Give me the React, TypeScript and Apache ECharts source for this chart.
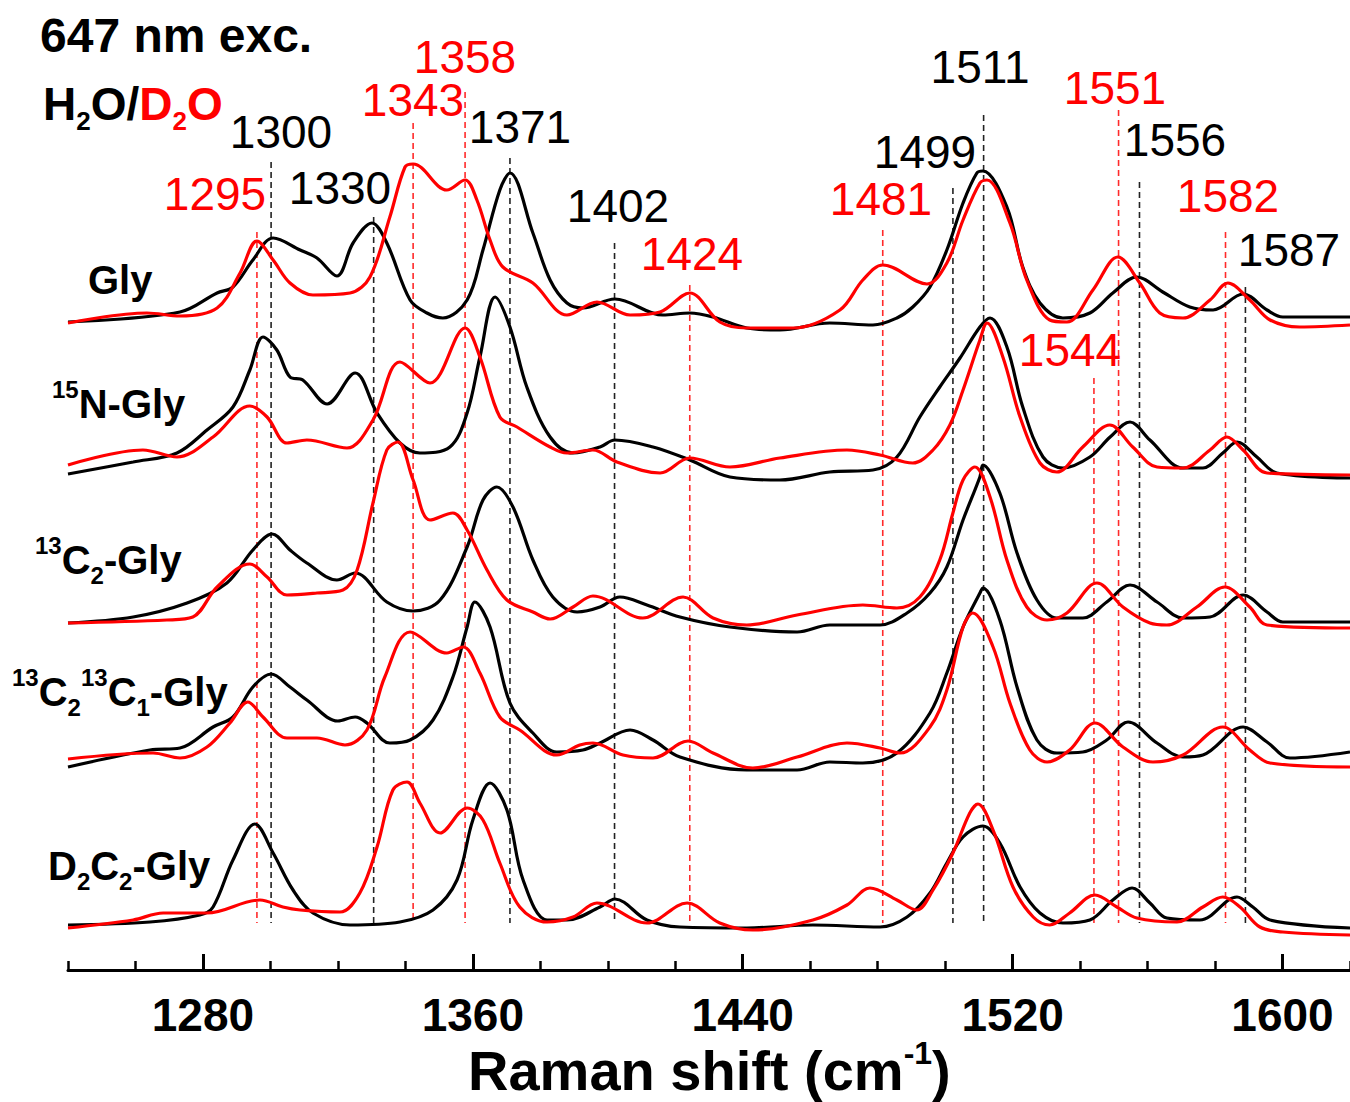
import React, { useEffect, useRef } from "react";
import * as echarts from "echarts";

// ---------- axis ----------
const X_MIN = 1240;
const X_MAX = 1620;
const MAJOR_TICKS = [1280, 1360, 1440, 1520, 1600];
const MINOR_TICK_STEP = 20;
const Y_MIN = 0;
const Y_MAX = 970;

// ---------- spectra: [Raman shift (cm-1), stacked intensity (a.u.)] ----------
const GLY_H2O: [number, number][] = [
  [1240, 648], [1273.2, 658], [1284.2, 677], [1288.9, 683], [1294.8, 710], [1300.8, 732], [1308.8, 720],
  [1313.8, 712], [1319.7, 694], [1324.5, 727], [1330.1, 747], [1334.5, 727], [1341.4, 670], [1346.4, 657],
  [1351.1, 652], [1358.3, 670], [1363, 720], [1368, 780], [1371, 797], [1377.8, 737], [1382.9, 690],
  [1387.9, 667], [1392.6, 662], [1402.1, 671], [1416.3, 655], [1424.3, 657], [1431.2, 653], [1441.2, 642],
  [1451, 640], [1465.8, 647], [1478.6, 645], [1485.7, 652], [1490.4, 663], [1495.5, 683], [1500.5, 720],
  [1505.3, 767], [1509.4, 797], [1511.2, 799], [1518.3, 763], [1523, 703], [1528.1, 667], [1534.9, 652],
  [1542.9, 657], [1549.7, 677], [1556.8, 693], [1564.5, 678], [1572.5, 663], [1579.4, 660], [1588.3, 676],
  [1595.4, 660], [1600.1, 653], [1620, 653],
];
const GLY_D2O: [number, number][] = [
  [1240, 647], [1263.4, 657], [1273.2, 654], [1284.2, 662], [1291, 697], [1296, 729], [1300.8, 710],
  [1305.8, 687], [1312.6, 675], [1323.6, 677], [1329.5, 693], [1335.4, 753], [1339.9, 803], [1342.3, 806],
  [1352.3, 780], [1357.7, 790], [1361.2, 770], [1365.1, 730], [1368.9, 703], [1377.8, 687], [1387.9, 655],
  [1396.8, 668], [1406.6, 655], [1415.5, 658], [1424.3, 677], [1433.2, 648], [1441.2, 642], [1454.9, 642],
  [1468.8, 660], [1475.6, 690], [1481.5, 705], [1494.6, 686], [1500.5, 707], [1505.3, 750], [1510.3, 787],
  [1512.4, 790], [1519.2, 747], [1524.2, 690], [1531, 650], [1536.1, 648], [1543.8, 680], [1551.2, 713],
  [1557.7, 687], [1563.6, 657], [1570.5, 652], [1578.5, 670], [1583.8, 687], [1590.3, 670], [1596.3, 650],
  [1605.1, 643], [1620, 645],
];
const N15_H2O: [number, number][] = [
  [1240, 496], [1259.3, 508], [1272.3, 517], [1281.2, 540], [1288.9, 563], [1293.9, 600], [1297.8, 633],
  [1301.9, 620], [1305.8, 593], [1309.6, 590], [1316.8, 566], [1325.1, 597], [1331.6, 557], [1338.4, 527],
  [1344.3, 517], [1353.2, 523], [1358.3, 557], [1362.1, 613], [1366.6, 673], [1371, 643], [1376, 583],
  [1382.9, 533], [1389.7, 517], [1397.7, 523], [1402.1, 530], [1413.4, 523], [1424.3, 510], [1436.2, 493],
  [1451, 490], [1465.8, 498], [1478.6, 500], [1485.7, 513], [1492.5, 553], [1498.4, 583], [1504.4, 612],
  [1510.3, 643], [1513.3, 652], [1518.3, 623], [1523, 563], [1529, 513], [1534.9, 502], [1542.9, 513],
  [1548.9, 533], [1554.8, 548], [1560.7, 530], [1570.5, 502], [1576.4, 502], [1582.3, 517], [1586.5, 528],
  [1592.4, 513], [1598.3, 497], [1620, 492],
];
const N15_D2O: [number, number][] = [
  [1240, 505], [1262.2, 520], [1272.3, 513], [1283, 533], [1293.9, 564], [1299, 553], [1304.9, 527],
  [1310.8, 530], [1322.7, 522], [1330.4, 550], [1338.4, 608], [1347.3, 587], [1357.7, 642], [1362.1, 613],
  [1368, 553], [1373.1, 543], [1382.9, 523], [1387.9, 517], [1395.6, 520], [1402.7, 508], [1415.5, 497],
  [1424.3, 512], [1436.2, 503], [1451, 512], [1470.9, 520], [1480.7, 515], [1490.4, 507], [1496.4, 520],
  [1501.4, 545], [1505.3, 580], [1510.3, 630], [1512.4, 647], [1517.1, 613], [1522.2, 553], [1528.1, 507],
  [1533.1, 498], [1540.8, 523], [1548.8, 545], [1555.6, 523], [1562.8, 503], [1570.5, 502], [1578.5, 520],
  [1583.5, 533], [1588.3, 520], [1595.4, 497], [1620, 495],
];
const C13_H2O: [number, number][] = [
  [1240, 347], [1259.3, 353], [1275.3, 367], [1287.1, 387], [1294.8, 420], [1300.5, 436], [1305.8, 420],
  [1310.8, 407], [1319.7, 390], [1325.1, 397], [1334.5, 368], [1342.3, 359], [1350.3, 370], [1358.3, 423],
  [1363, 470], [1367.1, 483], [1371.9, 463], [1377.8, 410], [1383.7, 373], [1390.9, 358], [1397.7, 363],
  [1403.6, 373], [1411.6, 365], [1421.4, 353], [1436.2, 343], [1456.1, 338], [1465.8, 345], [1480.7, 345],
  [1488.7, 357], [1495.5, 377], [1500.5, 403], [1505.3, 450], [1510.3, 493], [1511.2, 505], [1516.2, 477],
  [1521.3, 417], [1527.2, 370], [1533.1, 352], [1540.8, 352], [1547.9, 368], [1554.8, 385], [1562.8, 368],
  [1570.5, 352], [1578.5, 353], [1588.3, 375], [1595.4, 358], [1600.1, 348], [1620, 348],
];
const C13_D2O: [number, number][] = [
  [1240, 347], [1269.3, 350], [1277, 353], [1284.2, 383], [1293.9, 406], [1299, 393], [1304.9, 375],
  [1313.8, 377], [1321.5, 380], [1325.7, 400], [1330.4, 467], [1334.5, 520], [1337.8, 528], [1342.3, 490],
  [1347.3, 450], [1354.1, 457], [1358.3, 440], [1364.2, 400], [1370.1, 370], [1377.8, 358], [1382.9, 351],
  [1389.7, 363], [1395.6, 374], [1410.4, 352], [1422.3, 373], [1431.2, 352], [1441.2, 345], [1456.1, 355],
  [1475.6, 365], [1485.7, 362], [1492.5, 373], [1498.4, 410], [1502.3, 457], [1505.3, 490], [1508.8, 503],
  [1513.3, 473], [1518.3, 410], [1524.2, 363], [1530.2, 350], [1536.1, 357], [1545, 387], [1552.7, 363],
  [1560.7, 347], [1565.7, 345], [1574.6, 363], [1582.9, 383], [1590.3, 363], [1595.4, 345], [1620, 342],
];
const C13C13_H2O: [number, number][] = [
  [1240, 203], [1264.3, 220], [1273.2, 222], [1283, 243], [1288.9, 253], [1294.8, 283], [1300.2, 296],
  [1305.8, 283], [1310.8, 270], [1320, 249], [1325.1, 253], [1328.6, 247], [1335.4, 227], [1341.4, 230],
  [1348.2, 250], [1354.1, 293], [1358.3, 343], [1360.6, 368], [1365.1, 343], [1371, 267], [1377.8, 237],
  [1384.9, 218], [1392.6, 220], [1397.7, 227], [1406.6, 240], [1413.4, 230], [1421.4, 213], [1441.2, 200],
  [1456.1, 200], [1465.8, 208], [1475.6, 207], [1485.7, 217], [1495.5, 257], [1500.5, 297], [1505.3, 343],
  [1510.3, 377], [1511.2, 382], [1516.2, 350], [1521.3, 283], [1527.2, 230], [1533.1, 217], [1540.8, 218],
  [1547.9, 230], [1554.2, 248], [1562.8, 227], [1570.5, 213], [1576.4, 215], [1588.3, 243], [1595.4, 228],
  [1602.2, 212], [1620, 218],
];
const C13C13_D2O: [number, number][] = [
  [1240, 211], [1265.2, 217], [1273.2, 212], [1281.2, 223], [1288, 247], [1293.3, 268], [1297.8, 253],
  [1304.9, 232], [1313.8, 232], [1322.1, 225], [1328.6, 240], [1333.9, 293], [1341.4, 338], [1352.3, 317],
  [1357.1, 323], [1362.1, 297], [1368, 253], [1373.9, 240], [1384.9, 215], [1391.7, 225], [1395.6, 227],
  [1404.5, 215], [1413.4, 212], [1423.8, 229], [1431.2, 217], [1443, 202], [1456.1, 213], [1470.9, 227],
  [1480.7, 222], [1486.6, 217], [1495.5, 243], [1500.5, 280], [1505.3, 343], [1508.2, 357], [1514.2, 323],
  [1519.2, 267], [1525.1, 220], [1530.2, 208], [1536.9, 220], [1544.4, 247], [1552.7, 223], [1561.6, 208],
  [1570.5, 215], [1582.3, 243], [1590.3, 220], [1596.3, 207], [1620, 203],
];
const D2C2_H2O: [number, number][] = [
  [1240, 45], [1264.3, 48], [1279.1, 55], [1283, 63], [1288.9, 110], [1295.4, 146], [1300.8, 117],
  [1306.7, 80], [1312.6, 57], [1323.6, 45], [1338.4, 48], [1348.2, 60], [1355.3, 90], [1360, 150],
  [1365.1, 187], [1370.1, 160], [1374.9, 90], [1382, 50], [1387.9, 50], [1397.7, 63], [1402.1, 71],
  [1411.6, 50], [1421.4, 43], [1441.2, 42], [1460.8, 45], [1480.7, 43], [1488.7, 53], [1495.5, 77],
  [1500.5, 107], [1505.3, 133], [1511.2, 144], [1516.2, 127], [1522.2, 83], [1528.1, 57], [1534.9, 47],
  [1542.9, 50], [1549.7, 70], [1555.4, 82], [1560.7, 67], [1565.7, 52], [1575.5, 50], [1586.5, 73],
  [1591.2, 63], [1596.3, 50], [1620, 42],
];
const D2C2_D2O: [number, number][] = [
  [1240, 42], [1259.3, 50], [1268.2, 57], [1281.2, 57], [1296.9, 70], [1303.7, 63], [1308.8, 60],
  [1320.6, 58], [1326.5, 77], [1331.6, 123], [1336.3, 180], [1340.5, 188], [1344.3, 167], [1350.3, 137],
  [1358.3, 162], [1363, 150], [1368, 107], [1373.9, 63], [1382, 48], [1389.7, 53], [1396.8, 67],
  [1411.6, 47], [1423.5, 67], [1433.2, 47], [1443, 40], [1460.8, 50], [1470.9, 65], [1477.7, 82],
  [1485.7, 70], [1491.6, 60], [1496.4, 80], [1502.3, 117], [1507.3, 157], [1509.7, 166], [1514.2, 140],
  [1520.1, 83], [1526.1, 53], [1531, 45], [1536.9, 57], [1544.4, 75], [1550.9, 63], [1556.8, 52],
  [1568.7, 48], [1576.4, 63], [1582.3, 73], [1587.4, 63], [1593.3, 43], [1600.1, 38], [1620, 35],
];

const SPECTRA: { name: string; solvent: "H2O" | "D2O"; data: [number, number][] }[] = [
  { name: "Gly", solvent: "H2O", data: GLY_H2O },
  { name: "Gly", solvent: "D2O", data: GLY_D2O },
  { name: "15N-Gly", solvent: "H2O", data: N15_H2O },
  { name: "15N-Gly", solvent: "D2O", data: N15_D2O },
  { name: "13C2-Gly", solvent: "H2O", data: C13_H2O },
  { name: "13C2-Gly", solvent: "D2O", data: C13_D2O },
  { name: "13C213C1-Gly", solvent: "H2O", data: C13C13_H2O },
  { name: "13C213C1-Gly", solvent: "D2O", data: C13C13_D2O },
  { name: "D2C2-Gly", solvent: "H2O", data: D2C2_H2O },
  { name: "D2C2-Gly", solvent: "D2O", data: D2C2_D2O },
];

// ---------- peak markers: label, solvent, position (cm-1), top of dashed line ----------
const PEAK_LABELS = ["1295", "1300", "1330", "1343", "1358", "1371", "1402", "1424", "1481", "1499", "1511", "1544", "1551", "1556", "1582", "1587"];
const PEAK_SOLVENT = ["D2O", "H2O", "H2O", "D2O", "D2O", "H2O", "H2O", "D2O", "D2O", "H2O", "H2O", "D2O", "D2O", "H2O", "D2O", "H2O"];
const PEAK_POS = [1296, 1300.2, 1330.6, 1342.3, 1357.7, 1371, 1402, 1424.3, 1481.5, 1502.3, 1511.4, 1544.1, 1551.4, 1557.6, 1583.1, 1589];
const PEAK_TOP = [738, 808, 753, 847, 878, 812, 727, 685, 740, 782, 855, 592, 860, 788, 738, 683];
const PEAK_BOTTOM = 47;

// label layout (pixel centres)
const PEAK_LABEL_XY: [number, number][] = [
  [215, 194], [281, 132], [340, 188], [413, 100], [465, 57], [520, 127], [618, 206], [692, 254],
  [881, 199], [925, 152], [980, 67], [1070, 350], [1115, 88], [1175, 140], [1228, 196], [1289, 250],
];

const BLACK = "#000000";
const RED = "#ff0000";
const FONT = '"Liberation Sans", Arial, sans-serif';

export default function App() {
  const ref = useRef<HTMLDivElement>(null);
  useEffect(() => {
    document.body.style.margin = "0";
    const chart = echarts.init(ref.current!, null, { renderer: "svg" });

    const markerSeries = PEAK_POS.map((pos, i) => ({
      type: "line",
      data: [
        [pos, PEAK_TOP[i]],
        [pos, PEAK_BOTTOM],
      ],
      showSymbol: false,
      silent: true,
      z: 1,
      lineStyle: {
        color: PEAK_SOLVENT[i] === "H2O" ? "#222222" : "#ff2a2a",
        width: 1.6,
        type: [6, 4],
      },
    }));

    const spectraSeries = SPECTRA.map((s) => ({
      type: "line",
      name: s.name + " " + s.solvent,
      data: s.data,
      showSymbol: false,
      silent: true,
      smooth: 0.35,
      z: s.solvent === "H2O" ? 3 : 4,
      lineStyle: { color: s.solvent === "H2O" ? BLACK : RED, width: 3.2 },
    }));

    const peakTexts = PEAK_LABELS.map((t, i) => ({
      type: "text",
      x: PEAK_LABEL_XY[i][0],
      y: PEAK_LABEL_XY[i][1],
      z: 10,
      style: {
        text: t,
        fill: PEAK_SOLVENT[i] === "H2O" ? BLACK : RED,
        font: `46px ${FONT}`,
        align: "center",
        verticalAlign: "middle",
      },
    }));

    const bold = (size: number) => `bold ${size}px ${FONT}`;
    const richSample = {
      n: { font: bold(40), fill: BLACK, lineHeight: 54, verticalAlign: "middle" },
      sup: { font: bold(24), fill: BLACK, lineHeight: 24, verticalAlign: "top" },
      sub: { font: bold(24), fill: BLACK, lineHeight: 24, verticalAlign: "bottom" },
    };

    const sampleLabels = [
      { text: "{n|Gly}", x: 88, y: 280 },
      { text: "{sup|15}{n|N-Gly}", x: 52, y: 404 },
      { text: "{sup|13}{n|C}{sub|2}{n|-Gly}", x: 35, y: 560 },
      { text: "{sup|13}{n|C}{sub|2}{sup|13}{n|C}{sub|1}{n|-Gly}", x: 12, y: 692 },
      { text: "{n|D}{sub|2}{n|C}{sub|2}{n|-Gly}", x: 48, y: 866 },
    ].map((l) => ({
      type: "text",
      x: l.x,
      y: l.y,
      z: 10,
      style: { text: l.text, rich: richSample, align: "left", verticalAlign: "middle" },
    }));

    const option: any = {
      animation: false,
      backgroundColor: "#ffffff",
      grid: { left: 68, right: 0, top: 0, bottom: 132, containLabel: false },
      xAxis: [
        {
          type: "value",
          min: X_MIN,
          max: X_MAX,
          position: "bottom",
          axisLine: { show: true, onZero: false, lineStyle: { color: BLACK, width: 3 } },
          axisTick: { show: true, inside: true, length: 16, lineStyle: { color: BLACK, width: 3 }, customValues: MAJOR_TICKS },
          axisLabel: {
            show: true,
            customValues: MAJOR_TICKS,
            formatter: (v: number) => String(v),
            margin: 22,
            color: BLACK,
            fontSize: 46,
            fontWeight: "bold",
            fontFamily: FONT,
          },
          splitLine: { show: false },
        },
        {
          type: "value",
          min: X_MIN,
          max: X_MAX,
          interval: MINOR_TICK_STEP,
          position: "bottom",
          gridIndex: 0,
          axisLine: { show: false, onZero: false },
          axisTick: { show: true, inside: true, length: 9, lineStyle: { color: BLACK, width: 2.5 } },
          axisLabel: { show: false },
          splitLine: { show: false },
        },
      ],
      yAxis: { type: "value", min: Y_MIN, max: Y_MAX, show: false },
      series: [...markerSeries, ...spectraSeries],
      graphic: [
        {
          type: "text",
          x: 40,
          y: 35,
          style: { text: "647 nm exc.", font: bold(48), fill: BLACK, align: "left", verticalAlign: "middle" },
        },
        {
          type: "text",
          x: 43,
          y: 104,
          style: {
            text: "{b|H}{bs|2}{b|O/}{r|D}{rs|2}{r|O}",
            align: "left",
            verticalAlign: "middle",
            rich: {
              b: { font: bold(46), fill: BLACK, lineHeight: 60, verticalAlign: "middle" },
              bs: { font: bold(26), fill: BLACK, lineHeight: 26, verticalAlign: "bottom" },
              r: { font: bold(46), fill: RED, lineHeight: 60, verticalAlign: "middle" },
              rs: { font: bold(26), fill: RED, lineHeight: 26, verticalAlign: "bottom" },
            },
          },
        },
        ...peakTexts,
        ...sampleLabels,
        {
          type: "text",
          x: 468,
          y: 1070,
          style: {
            text: "{n|Raman shift (cm}{s|-1}{n|)}",
            align: "left",
            verticalAlign: "middle",
            rich: {
              n: { font: bold(56), fill: BLACK, lineHeight: 66, verticalAlign: "middle" },
              s: { font: bold(32), fill: BLACK, lineHeight: 32, verticalAlign: "top" },
            },
          },
        },
      ],
    };

    chart.setOption(option);
    return () => chart.dispose();
  }, []);
  return <div ref={ref} style={{ width: 1350, height: 1102 }} />;
}
